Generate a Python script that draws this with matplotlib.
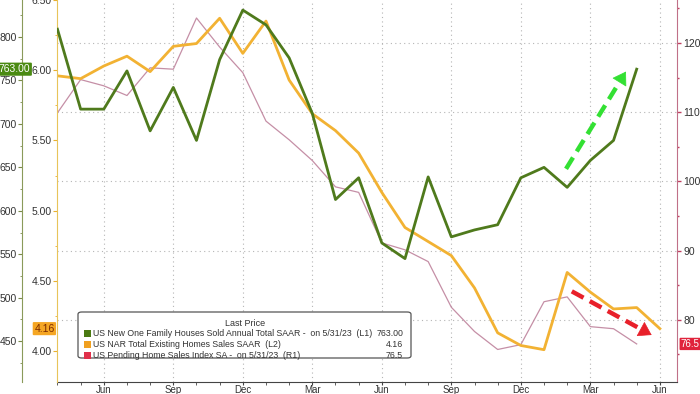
import numpy as np
import matplotlib
matplotlib.use("Agg")
import matplotlib.pyplot as plt
from matplotlib.patches import FancyBboxPatch, Rectangle
from matplotlib.ticker import MultipleLocator, FixedLocator

plt.rcParams['font.family'] = ['Liberation Sans', 'DejaVu Sans']

# monthly data, Apr 2021 .. May/Jun 2023
new_home_sales = [809, 717, 717, 761, 692, 742, 681, 774, 831, 814, 776, 712,
                  613, 638, 563, 545, 639, 570, 578, 584, 638, 650, 627, 658,
                  681, 763]
existing_sales = [5.96, 5.94, 6.03, 6.10, 5.99, 6.17, 6.19, 6.37, 6.12, 6.35,
                  5.93, 5.69, 5.57, 5.41, 5.13, 4.88, 4.78, 4.68, 4.45, 4.13,
                  4.04, 4.01, 4.56, 4.42, 4.30, 4.31, 4.16]
pending_index = [109.9, 114.7, 113.8, 112.4, 116.4, 116.2, 123.6, 119.4, 115.7,
                 108.7, 106.0, 103.0, 99.2, 98.4, 91.1, 90.1, 88.4, 81.8, 78.3,
                 75.7, 76.4, 82.6, 83.3, 79.0, 78.7, 76.5]
month_labels = ['Jun', 'Sep', 'Dec', 'Mar', 'Jun', 'Sep', 'Dec', 'Mar', 'Jun']

legend_rows = [
    ('US New One Family Houses Sold Annual Total SAAR -  on 5/31/23  (L1)', '763.00', '#4a7a12'),
    ('US NAR Total Existing Homes Sales SAAR  (L2)', '4.16', '#f0a020'),
    ('US Pending Home Sales Index SA -  on 5/31/23  (R1)', '76.5', '#e0304a'),
]

# trend arrows (month index, R1 value)
green_arrow = [(21.95, 101.8), (24.6, 116.2)]
red_arrow = [(22.2, 84.1), (25.75, 77.6)]

GREEN = '#4f7a1c'
ORANGE = '#f2b233'
PINK = '#c58fa6'
TXT = '#333333'

W, H = 700, 394
BOT = 12
fig = plt.figure(figsize=(W / 100, H / 100), dpi=100)
ax = fig.add_axes([57 / W, BOT / H, 620 / W, (H - BOT) / H])
ax2 = ax.twinx()
ax1 = ax.twinx()

# right axis (pending index) carries the grid
ax.plot(np.arange(len(pending_index)), pending_index, color=PINK, lw=0.9)
ax.set_ylim(71.0, 126.2)
ax.yaxis.tick_right()
ax.yaxis.set_major_locator(MultipleLocator(10))
ax.yaxis.set_minor_locator(MultipleLocator(5))
ax.tick_params(axis='y', which='both', colors='#c04060', labelcolor=TXT,
               labelsize=7.5, direction='out', length=3, width=1, pad=1.5)
ax.tick_params(axis='y', which='minor', length=1.5)
for s in ['top', 'left']:
    ax.spines[s].set_visible(False)
ax.spines['right'].set_color('#c07088')
ax.spines['bottom'].set_color('#444444')

ax.set_xlim(-0.02, 26.74)
major_x = list(range(2, 27, 3))
ax.xaxis.set_major_locator(FixedLocator(major_x))
ax.set_xticklabels(month_labels)
ax.xaxis.set_minor_locator(MultipleLocator(1))
ax.tick_params(axis='x', which='both', colors='#444444', labelcolor=TXT,
               labelsize=7, length=2, pad=0.5)
ax.grid(True, which='major', color='#b5b5b5', lw=0.8, linestyle=(0, (1, 3)))

# L2 existing home sales
ax2.plot(np.arange(len(existing_sales)), existing_sales, color=ORANGE, lw=2.0)
ax2.set_ylim(3.78, 6.5)
ax2.yaxis.tick_left()
ax2.yaxis.set_major_locator(MultipleLocator(0.5))
ax2.yaxis.set_minor_locator(MultipleLocator(0.25))
ax2.yaxis.set_major_formatter(plt.FuncFormatter(lambda v, p: f'{v:.2f}'))
ax2.tick_params(axis='y', which='both', colors='#e8b030', labelcolor=TXT,
                labelsize=7.5, direction='out', length=3, pad=1)
ax2.tick_params(axis='y', which='minor', length=1.5)
for s in ['top', 'right', 'bottom']:
    ax2.spines[s].set_visible(False)
ax2.spines['left'].set_visible(True)
ax2.spines['left'].set_color('#e8c45a')

# L1 new home sales
ax1.plot(np.arange(len(new_home_sales)), new_home_sales, color=GREEN, lw=2.0)
ax1.set_ylim(403, 842.6)
ax1.yaxis.tick_left()
ax1.spines['left'].set_position(('outward', 25))
ax1.yaxis.set_major_locator(MultipleLocator(50))
ax1.yaxis.set_minor_locator(MultipleLocator(25))
ax1.tick_params(axis='y', which='both', colors='#7a8a4a', labelcolor=TXT,
                labelsize=7.5, direction='out', length=3, pad=1)
ax1.tick_params(axis='y', which='minor', length=1.5)
for s in ['top', 'right', 'bottom']:
    ax1.spines[s].set_visible(False)
ax1.spines['left'].set_visible(True)
ax1.spines['left'].set_color('#8a9a5a')

# last value tags
ax1.text(-0.043, new_home_sales[-1], f'{new_home_sales[-1]:.2f}',
         transform=ax1.get_yaxis_transform(), ha='right', va='center',
         fontsize=7.5, color='white', clip_on=False,
         bbox=dict(boxstyle='round,pad=0.15,rounding_size=0.1', fc='#4a8a12', ec='none'))
ax2.text(-0.004, existing_sales[-1], f'{existing_sales[-1]:.2f}',
         transform=ax2.get_yaxis_transform(), ha='right', va='center',
         fontsize=7.5, color='#7a2a00', clip_on=False,
         bbox=dict(boxstyle='round,pad=0.15,rounding_size=0.1', fc='#f5a623', ec='none'))
ax1.text(1.006, pending_index[-1], f'{pending_index[-1]:.1f}',
         transform=ax.get_yaxis_transform(), ha='left', va='center',
         fontsize=7, color='white', clip_on=False,
         bbox=dict(boxstyle='round,pad=0.12,rounding_size=0.1', fc='#e0243c', ec='none'))

# dashed trend arrows
for pts, col in [(green_arrow, '#33e033'), (red_arrow, '#e8202a')]:
    (x0, y0), (x1, y1) = pts
    xm = x0 + (x1 - x0) * 0.86
    ym = y0 + (y1 - y0) * 0.86
    ax1.plot([x0, xm], [y0, ym], color=col, lw=3.2, dashes=(3, 1.6),
             transform=ax.transData, solid_capstyle='butt', zorder=6)
    ax1.annotate('', xy=(x1, y1), xytext=(xm, ym), xycoords=ax.transData,
                 textcoords=ax.transData,
                 arrowprops=dict(arrowstyle='-|>,head_length=0.7,head_width=0.45',
                                 color=col, lw=0.5, mutation_scale=12), zorder=6)

# legend box
PH = H - BOT
lx0, lx1 = (78 - 57) / 620, (411 - 57) / 620
ly0, ly1 = (PH - 358) / PH, (PH - 312) / PH
ax1.add_patch(FancyBboxPatch((lx0, ly0), lx1 - lx0, ly1 - ly0,
                             boxstyle='round,pad=0,rounding_size=0.006',
                             transform=ax1.transAxes, fc='white', ec='#555555',
                             lw=0.9, zorder=10))
ax1.text((245 - 57) / 620, (PH - 323) / PH, 'Last Price', transform=ax1.transAxes,
         ha='center', va='center', fontsize=6.5, color=TXT, zorder=11)
row_y = [333.5, 344.5, 355]
for (name, val, col), yp in zip(legend_rows, row_y):
    yf = (PH - yp) / PH
    ax1.add_patch(Rectangle(((84 - 57) / 620, yf - 3.5 / PH), 7 / 620, 7 / PH,
                            transform=ax1.transAxes, fc=col, ec='none', zorder=11))
    ax1.text((93 - 57) / 620, yf, name, transform=ax1.transAxes, ha='left',
             va='center', fontsize=6.3, color=TXT, zorder=11)
    ax1.text((403 - 57) / 620, yf, val, transform=ax1.transAxes, ha='right',
             va='center', fontsize=6.3, color=TXT, zorder=11)

fig.savefig('out.png', dpi=100)
